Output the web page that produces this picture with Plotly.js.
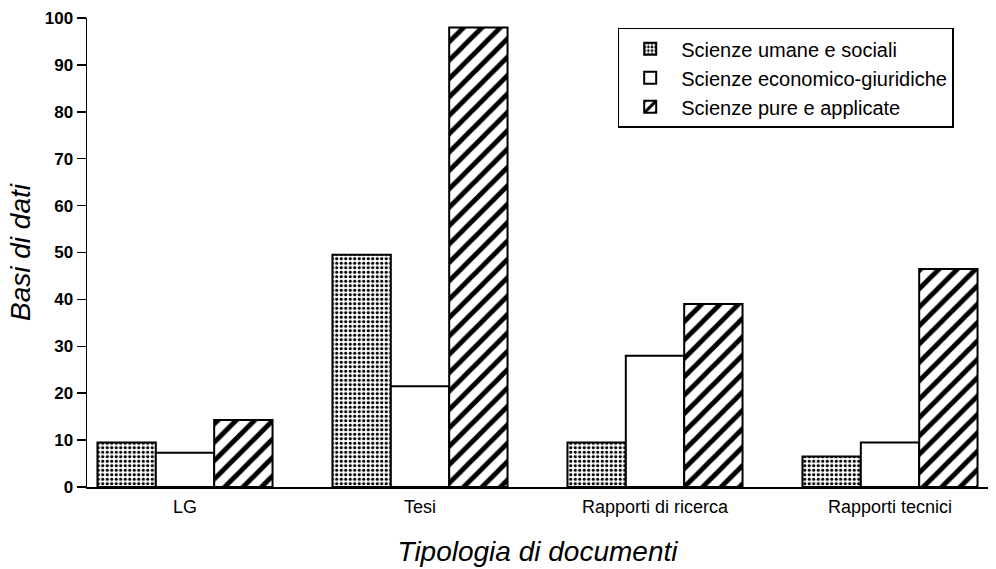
<!DOCTYPE html>
<html>
<head>
<meta charset="utf-8">
<script src="https://cdn.plot.ly/plotly-3.0.1.min.js"></script>
<style>html,body{margin:0;padding:0;background:#fff;}#chart{width:996px;height:569px;}</style>
</head>
<body>
<div id="chart"></div>
<script>
const categories = ["LG", "Tesi", "Rapporti di ricerca", "Rapporti tecnici"];
const seriesNames = ["Scienze umane e sociali", "Scienze economico-giuridiche", "Scienze pure e applicate"];
const umaneSociali = [9.5, 49.5, 9.5, 6.5];
const economicoGiuridiche = [7.3, 21.5, 28, 9.5];
const pureApplicate = [14.3, 98, 39, 46.5];
const yTickValues = [0, 10, 20, 30, 40, 50, 60, 70, 80, 90, 100];

const FONT = "Liberation Sans, Arial, Helvetica, sans-serif";
const idx = categories.map((c, i) => i);

const common = {
  type: "bar",
  x: idx,
  hoverinfo: "y+name"
};

const traces = [
  Object.assign({}, common, {
    name: seriesNames[0],
    y: umaneSociali,
    marker: {
      color: "#ffffff",
      line: {color: "#000", width: 2},
      pattern: {shape: ".", fgcolor: "#000", bgcolor: "#fff", size: 4.5, solidity: 0.4, fillmode: "replace"}
    }
  }),
  Object.assign({}, common, {
    name: seriesNames[1],
    y: economicoGiuridiche,
    marker: {color: "#ffffff", line: {color: "#000", width: 2}}
  }),
  Object.assign({}, common, {
    name: seriesNames[2],
    y: pureApplicate,
    marker: {
      color: "#ffffff",
      line: {color: "#000", width: 2},
      pattern: {shape: "/", fgcolor: "#000", bgcolor: "#fff", size: 13, solidity: 0.38, fillmode: "replace"}
    }
  })
];

const layout = {
  width: 996,
  height: 569,
  margin: {l: 87, r: 8, t: 18, b: 82, pad: 0},
  paper_bgcolor: "#fff",
  plot_bgcolor: "#fff",
  barmode: "group",
  bargap: 0.255,
  bargroupgap: 0,
  font: {family: FONT, color: "#000"},
  showlegend: true,
  legend: {
    x: 0.589, y: 0.979, xanchor: "left", yanchor: "top",
    bordercolor: "#000", borderwidth: 1.5, bgcolor: "#fff",
    font: {family: FONT, size: 20, color: "#000"},
    itemwidth: 52,
    tracegroupgap: 0
  },
  xaxis: {
    range: [-0.417, 3.417],
    tickmode: "array",
    tickvals: idx,
    ticktext: categories,
    ticks: "",
    showgrid: false,
    zeroline: false,
    showline: true,
    linecolor: "#000",
    linewidth: 2,
    tickfont: {family: FONT, size: 18, color: "#000"},
    ticklabelstandoff: 2,
    title: {text: "Tipologia di documenti", font: {family: FONT, size: 28, color: "#000", style: "italic"}, standoff: 26},
    fixedrange: true
  },
  yaxis: {
    range: [0, 100],
    tickmode: "array",
    tickvals: yTickValues,
    ticktext: yTickValues.map(String),
    ticks: "outside",
    ticklen: 9,
    tickwidth: 1.5,
    tickcolor: "#000",
    showgrid: false,
    zeroline: false,
    showline: true,
    linecolor: "#000",
    linewidth: 1.5,
    tickfont: {family: FONT, size: 17, color: "#000", weight: "bold"},
    title: {text: "Basi di dati", font: {family: FONT, size: 28, color: "#000", style: "italic"}, standoff: 6},
    fixedrange: true
  }
};

Plotly.newPlot("chart", traces, layout, {displayModeBar: false, staticPlot: true});
</script>
</body>
</html>
